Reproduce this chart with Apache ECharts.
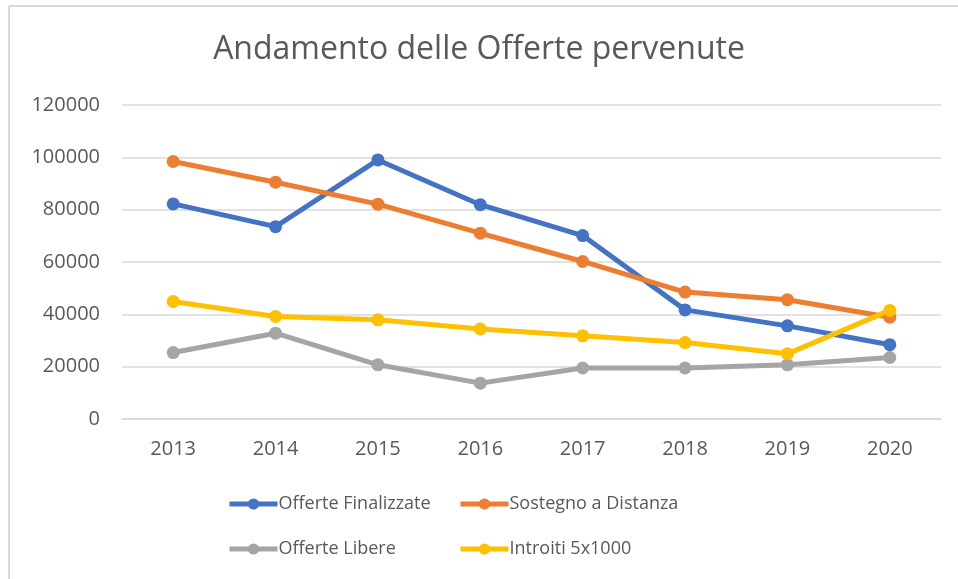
<!DOCTYPE html>
<html>
<head>
<meta charset="utf-8">
<script src="https://cdn.jsdelivr.net/npm/echarts@6/dist/echarts.min.js"></script>
<style>
  html, body { margin: 0; padding: 0; background: #fff; }
  #chart { width: 958px; height: 579px; }
</style>
</head>
<body>
<div id="chart"></div>
<script>
// years on the x axis
const years = ['2013', '2014', '2015', '2016', '2017', '2018', '2019', '2020']

// values
const offerteFinalizzate = [82200, 73500, 99000, 81900, 70100, 41700, 35600, 28400]
const sostegnoDistanza = [98400, 90500, 82100, 71000, 60200, 48500, 45600, 38900]
const offerteLibere = [25400, 32800, 20700, 13700, 19500, 19500, 20700, 23500]
const introiti5x1000 = [44900, 39200, 37900, 34400, 31800, 29200, 24900, 41500]

const font = '"Open Sans", "Liberation Sans", sans-serif'
const textColor = '#595959'

const chart = echarts.init(document.getElementById('chart'), null, { renderer: 'canvas' })

function line(name, data, color) {
    return {
        name: name,
        type: 'line',
        data: data,
        symbol: 'circle',
        symbolSize: 13,
        lineStyle: { width: 5, color: color },
        itemStyle: { color: color },
        emphasis: { disabled: true },
        animation: false
    }
}

function legend(name, left, top) {
    return {
        data: [name],
        left: left,
        top: top,
        itemWidth: 48,
        itemHeight: 14,
        itemGap: 0,
        padding: 0,
        lineStyle: { width: 5 },
        textStyle: { color: textColor, fontSize: 18, fontFamily: font, padding: [0, 0, 0, -4] }
    }
}

chart.setOption({
    backgroundColor: '#fff',
    title: {
        text: 'Andamento delle Offerte pervenute',
        left: 'center',
        top: 29,
        textStyle: { color: textColor, fontSize: 32, fontWeight: 'normal', fontFamily: font }
    },
    graphic: [
        { type: 'line', shape: { x1: 9, y1: 6, x2: 958, y2: 6 }, style: { stroke: '#d9d9d9', lineWidth: 2 } },
        { type: 'line', shape: { x1: 9, y1: 6, x2: 9, y2: 579 }, style: { stroke: '#d9d9d9', lineWidth: 2 } }
    ],
    legend: [
        legend('Offerte Finalizzate', 227, 495),
        legend('Sostegno a Distanza', 458, 495),
        legend('Offerte Libere', 227, 540),
        legend('Introiti 5x1000', 458, 540)
    ],
    grid: { left: 122, right: 17, top: 105, bottom: 160 },
    xAxis: {
        type: 'category',
        data: years,
        boundaryGap: true,
        axisLine: { lineStyle: { color: '#d9d9d9', width: 1.5 } },
        axisTick: { show: false },
        axisLabel: { color: textColor, fontSize: 20, fontFamily: font, margin: 20 }
    },
    yAxis: {
        type: 'value',
        min: 0,
        max: 120000,
        interval: 20000,
        axisLine: { show: false },
        axisTick: { show: false },
        splitLine: { lineStyle: { color: '#d9d9d9', width: 1.5 } },
        axisLabel: { color: textColor, fontSize: 20, fontFamily: font, margin: 22, formatter: v => String(v) }
    },
    series: [
        line('Offerte Finalizzate', offerteFinalizzate, '#4472C4'),
        line('Sostegno a Distanza', sostegnoDistanza, '#ED7D31'),
        line('Offerte Libere', offerteLibere, '#A5A5A5'),
        line('Introiti 5x1000', introiti5x1000, '#FFC000')
    ]
})

window.addEventListener('resize', () => chart.resize())
</script>
</body>
</html>
